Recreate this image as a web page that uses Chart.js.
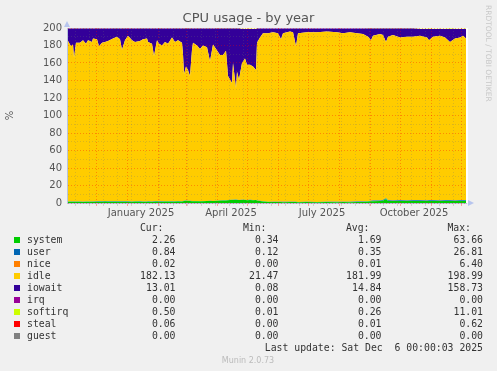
<!DOCTYPE html>
<html><head><meta charset="utf-8">
<script src="https://cdn.jsdelivr.net/npm/chart.js@4/dist/chart.umd.min.js"></script>
<style>html,body{margin:0;padding:0;background:#f0f0f0;}canvas{display:block}</style>
</head><body>
<canvas id="c" width="497" height="371"></canvas>
<script>
// Day index (1 = Nov 2 2024 ... 400 = Dec 6 2025)
const days = [1,2,5,7,8,10,14,17,20,22,26,27,31,33,36,39,42,47,51,54,56,59,62,66,69,74,77,81,82,86,88,91,93,96,99,102,106,109,112,116,117,118,120,122,124,126,127,131,134,137,141,144,147,150,154,157,160,162,166,167,170,171,173,176,179,181,184,187,190,191,194,197,202,207,212,215,217,224,227,230,232,241,251,261,271,277,284,291,297,302,305,307,314,317,320,322,327,334,341,347,354,361,363,367,374,379,384,389,394,397,400];

const system = [1.4,1.3,1.5,1.4,1.3,1.5,1.4,1.2,1.4,1.5,
1.3,1.4,1.5,1.3,1.4,1.6,1.4,1.3,1.5,1.4,
1.4,1.3,1.5,1.4,1.6,1.5,1.4,1.3,1.5,1.4,
1.5,1.6,1.4,1.5,1.7,1.6,1.5,1.6,1.8,1.7,
2.0,2.4,2.6,2.5,2.3,2.0,2.1,2.0,1.9,2.1,
2.2,2.4,2.2,2.5,2.8,2.9,3.0,3.2,3.6,3.4,
3.8,3.5,3.3,3.4,3.6,3.2,3.4,3.1,3.3,2.8,
2.4,1.8,1.3,1.1,1.2,1.1,1.0,1.1,1.2,1.1,
1.0,1.1,1.0,1.1,1.0,1.1,1.0,1.1,1.2,1.6,
2.0,2.1,2.2,2.6,4.5,2.4,2.2,2.3,2.2,2.4,
2.3,2.2,2.4,2.3,2.2,2.4,2.3,2.2,2.3,2.4,2.3];

const user = [0.3,0.3,0.3,0.3,0.3,0.3,0.3,0.3,0.3,0.3,
0.3,0.3,0.6,0.6,0.6,0.6,0.6,0.6,0.6,0.6,
0.6,0.6,0.4,0.4,0.4,0.4,0.4,0.4,0.4,0.4,
0.6,0.6,0.6,0.6,0.4,0.4,0.4,0.4,0.4,0.4,
0.2,0.2,0.2,0.2,0.2,0.2,0.2,0.2,0.2,0.2,
0.2,0.2,0.2,0.2,0.2,0.2,0.2,0.2,0.2,0.2,
0.3,0.2,0.2,0.2,0.2,0.2,0.2,0.2,0.2,0.2,
0.2,0.2,0.2,0.2,0.3,0.3,0.3,0.3,0.2,0.2,
0.2,0.2,0.2,0.2,0.3,0.4,0.5,0.5,0.4,0.5,
0.6,0.7,0.7,0.7,0.8,0.8,0.8,0.8,0.8,0.8,
0.8,0.8,0.8,0.9,0.8,0.8,0.8,0.8,0.8,0.8,0.8];

const nice = [0.01,0.01,0.01,0.01,0.01,0.01,0.01,0.01,0.01,0.01,
0.01,0.01,0.01,0.01,0.01,0.01,0.01,0.01,0.01,0.01,
0.01,0.01,0.01,0.01,0.01,0.01,0.01,0.01,0.01,0.01,
0.01,0.01,0.01,0.01,0.01,0.01,0.01,0.01,0.01,0.01,
0.01,0.01,0.01,0.01,0.01,0.01,0.01,0.01,0.01,0.01,
0.01,0.01,0.01,0.01,0.01,0.01,0.01,0.01,0.01,0.01,
0.01,0.01,0.01,0.01,0.01,0.01,0.01,0.01,0.01,0.01,
0.01,0.01,0.01,0.01,0.01,0.01,0.01,0.01,0.01,0.01,
0.01,0.01,0.01,0.01,0.01,0.01,0.01,0.01,0.01,0.01,
0.01,0.01,0.01,0.01,0.01,0.01,0.01,0.01,0.01,0.01,
0.02,0.02,0.02,0.02,0.02,0.02,0.02,0.02,0.02,0.02,0.02];

const idle = [188.3,183.4,177.2,179.3,164.4,181.2,181.3,184.5,180.3,184.2,
182.4,186.3,184.9,177.1,181.0,181.8,183.0,186.1,187.9,185.0,
173.0,184.1,189.1,184.2,182.0,183.1,185.2,186.3,182.1,180.2,
165.9,183.8,180.0,177.9,181.9,180.0,187.1,182.0,183.8,180.9,
167.8,144.4,153.2,149.3,142.5,172.8,180.7,177.8,173.9,177.7,
175.6,159.4,178.6,173.3,166.0,165.9,170.8,141.6,133.2,156.4,
126.9,146.3,137.5,156.4,161.2,154.6,154.4,152.7,148.5,180.0,
186.4,192.0,192.5,193.7,192.5,185.6,192.7,194.6,193.6,177.7,
192.8,193.7,193.8,194.7,193.7,192.5,193.5,192.4,191.4,187.9,
183.4,188.2,190.1,188.7,178.7,186.8,189.0,185.9,187.0,186.8,
187.9,186.0,182.8,186.8,188.0,185.8,180.9,185.0,185.9,187.8,184.9];

const iowait = [9.3,14.3,20.3,18.3,33.3,16.3,16.3,13.3,17.3,13.3,
15.3,11.3,12.3,20.3,16.3,15.3,14.3,11.3,9.3,12.3,
24.3,13.3,8.3,13.3,15.3,14.3,12.3,11.3,15.3,17.3,
31.3,13.3,17.3,19.3,15.3,17.3,10.3,15.3,13.3,16.3,
29.3,52.3,43.3,47.3,54.3,24.3,16.3,19.3,23.3,19.3,
21.3,37.3,18.3,23.3,30.3,30.3,25.3,54.3,62.3,39.3,
68.3,49.3,58.3,38.9,33.9,40.9,40.9,42.9,46.9,16.3,
10.3,5.3,5.3,4.3,5.3,12.3,5.3,3.3,4.3,20.3,
5.3,4.3,4.3,3.3,4.3,5.3,4.3,5.3,6.3,9.3,
13.3,8.3,6.3,7.3,15.3,9.3,7.3,10.3,9.3,9.3,
7.9,9.9,12.9,8.9,7.9,9.9,14.9,10.9,9.9,7.9,10.9];

const irq = [0,0,0,0,0,0,0,0,0,0, 0,0,0,0,0,0,0,0,0,0, 0,0,0,0,0,0,0,0,0,0,
0,0,0,0,0,0,0,0,0,0, 0,0,0,0,0,0,0,0,0,0, 0,0,0,0,0,0,0,0,0,0,
0,0,0,0,0,0,0,0,0,0, 0,0,0,0,0,0,0,0,0,0, 0,0,0,0,0,0,0,0,0,0,
0,0,0,0,0,0,0,0,0,0, 0,0,0,0,0,0,0,0,0,0,0];

const softirq = [0.3,0.2,0.3,0.2,0.3,0.3,0.2,0.3,0.3,0.2,
0.3,0.2,0.3,0.3,0.2,0.3,0.2,0.3,0.3,0.2,
0.3,0.3,0.2,0.3,0.2,0.3,0.3,0.2,0.3,0.2,
0.3,0.2,0.3,0.3,0.2,0.3,0.2,0.3,0.3,0.2,
0.3,0.4,0.3,0.4,0.3,0.3,0.2,0.3,0.3,0.2,
0.3,0.3,0.2,0.3,0.3,0.4,0.3,0.4,0.5,0.3,
0.4,0.3,0.4,0.3,0.3,0.3,0.4,0.3,0.3,0.3,
0.2,0.2,0.2,0.2,0.2,0.2,0.2,0.2,0.2,0.3,
0.2,0.2,0.2,0.2,0.2,0.2,0.2,0.2,0.2,0.3,
0.3,0.3,0.3,0.3,0.4,0.3,0.3,0.3,0.3,0.3,
0.3,0.3,0.4,0.3,0.3,0.3,0.4,0.3,0.3,0.3,0.5];

const steal = [0,0,0,0,0,0,0,0,0,0, 0,0,0,0,0,0,0,0,0,0, 0,0,0,0,0,0,0,0,0,0,
0,0,0,0,0,0,0,0,0,0, 0,0,0,0,0,0,0,0,0,0, 0,0,0,0,0,0,0,0,0,0,
0,0,0,0,0,0,0,0,0,0, 0,0,0,0,0,0,0,0,0,0, 0,0,0,0,0,0,0,0,0,0,
0,0,0,0,0,0,0,0,0,0, 0.05,0.05,0.05,0.05,0.05,0.05,0.05,0.05,0.05,0.05,0.06];

const guest = [0,0,0,0,0,0,0,0,0,0, 0,0,0,0,0,0,0,0,0,0, 0,0,0,0,0,0,0,0,0,0,
0,0,0,0,0,0,0,0,0,0, 0,0,0,0,0,0,0,0,0,0, 0,0,0,0,0,0,0,0,0,0,
0,0,0,0,0,0,0,0,0,0, 0,0,0,0,0,0,0,0,0,0, 0,0,0,0,0,0,0,0,0,0,
0,0,0,0,0,0,0,0,0,0, 0,0,0,0,0,0,0,0,0,0,0];

// Legend statistics
const seriesNames = ['system','user','nice','idle','iowait','irq','softirq','steal','guest'];
const statCur = [2.26,0.84,0.02,182.13,13.01,0.00,0.50,0.06,0.00];
const statMin = [0.34,0.12,0.00,21.47,0.08,0.00,0.01,0.00,0.00];
const statAvg = [1.69,0.35,0.01,181.99,14.84,0.00,0.26,0.01,0.00];
const statMax = [63.66,26.81,6.40,198.99,158.73,0.00,11.01,0.62,0.00];

// Axis ticks
const monthStartDays = [30,61,92,120,151,181,212,242,273,304,334,365,395];
const minorGridDays = [9,23,37,51,65,79,93,107,121,135,149,163,177,191,205,219,233,247,261,275,289,303,317,331,345,359,373,387];
const labelDays = [75,165,256,348];
const tickLabels = ['January 2025','April 2025','July 2025','October 2025'];
const chartTitle = 'CPU usage - by year';
const lastUpdate = 'Last update: Sat Dec  6 00:00:03 2025';

const seriesColors = ['#00cc00','#0066b3','#ff8000','#ffcc00','#330099','#990099','#ccff00','#ff0000','#808080'];
const seriesData = [system,user,nice,idle,iowait,irq,softirq,steal,guest];

const MAJ = 'rgba(255,0,0,0.33)';
const MIN = 'rgba(110,110,110,0.25)';
const majorSet = new Set(monthStartDays);

const datasets = seriesNames.map((n, i) => ({
  label: n,
  data: days.map((d, j) => ({x: d, y: seriesData[i][j]})),
  backgroundColor: seriesColors[i],
  borderColor: seriesColors[i],
  borderWidth: 0,
  pointRadius: 0,
  tension: 0,
  fill: i === 0 ? 'origin' : '-1'
}));

const extras = {
  id: 'extras',
  beforeDraw(chart) {
    const {ctx, chartArea: a} = chart;
    ctx.save();
    ctx.fillStyle = '#f0f0f0';
    ctx.fillRect(0, 0, chart.width, chart.height);
    ctx.fillStyle = '#ffffff';
    ctx.fillRect(a.left, a.top, a.right - a.left + 2, a.bottom - a.top);
    ctx.restore();
  },
  afterDraw(chart) {
    const {ctx, chartArea: a} = chart;
    ctx.save();
    // title
    ctx.fillStyle = '#555';
    ctx.font = '13px "DejaVu Sans"';
    ctx.textAlign = 'center';
    ctx.textBaseline = 'middle';
    ctx.fillText(chartTitle, chart.width / 2, 19);

    // axis arrows
    ctx.fillStyle = '#b7c5ee';
    ctx.beginPath();
    ctx.moveTo(a.left - 3, a.top - 1); ctx.lineTo(a.left + 3, a.top - 1); ctx.lineTo(a.left, a.top - 7);
    ctx.closePath(); ctx.fill();
    ctx.beginPath();
    ctx.moveTo(a.right + 2, a.bottom - 3); ctx.lineTo(a.right + 2, a.bottom + 3); ctx.lineTo(a.right + 8, a.bottom);
    ctx.closePath(); ctx.fill();

    // legend table
    ctx.font = '9.8px "DejaVu Sans Mono"';
    ctx.textBaseline = 'middle';
    ctx.fillStyle = '#333';
    const cols = [175.5, 278.5, 381.5, 483];
    const heads = ['Cur:','Min:','Avg:','Max:'];
    ctx.textAlign = 'right';
    heads.forEach((h, k) => ctx.fillText(h, cols[k] - 12, 228.5));
    const stats = [statCur, statMin, statAvg, statMax];
    seriesNames.forEach((n, i) => {
      const y = 240 + i * 12;
      ctx.fillStyle = seriesColors[i];
      ctx.fillRect(14, y - 3, 6, 6);
      ctx.fillStyle = '#333';
      ctx.textAlign = 'left';
      ctx.fillText(n, 27, y);
      ctx.textAlign = 'right';
      stats.forEach((s, k) => ctx.fillText(s[i].toFixed(2), cols[k], y));
    });
    ctx.fillText(lastUpdate, 483, 348);

    ctx.textAlign = 'center';
    ctx.fillStyle = '#bbbbbb';
    ctx.font = '8px "DejaVu Sans"';
    ctx.fillText('Munin 2.0.73', 248, 361);

    // rrdtool watermark
    ctx.translate(488, 5);
    ctx.rotate(Math.PI / 2);
    ctx.textAlign = 'left';
    ctx.fillStyle = '#c8c8c8';
    ctx.font = '7.5px "DejaVu Sans"';
    ctx.fillText('RRDTOOL / TOBI OETIKER', 0, 0);
    ctx.restore();
  }
};

const tickFont = {family: 'DejaVu Sans', size: 10};

new Chart(document.getElementById('c'), {
  type: 'line',
  data: {datasets},
  plugins: [extras],
  options: {
    responsive: false,
    animation: false,
    devicePixelRatio: 1,
    layout: {padding: {left: 0, right: 31, top: 28, bottom: 148}},
    plugins: {
      legend: {display: false},
      tooltip: {enabled: false},
      title: {display: false}
    },
    scales: {
      x: {
        type: 'linear', min: 1, max: 400, position: 'bottom', z: 1,
        afterBuildTicks: s => { s.ticks = monthStartDays.concat(minorGridDays).map(v => ({value: v})); },
        afterFit: s => { s.height = 0; },
        ticks: {display: false, autoSkip: false},
        grid: {z: 1, color: c => (c.tick && majorSet.has(c.tick.value)) ? MAJ : MIN, drawTicks: true, tickLength: 3, lineWidth: 1},
        border: {z: 1, display: true, color: '#b8c4dc', dash: [1, 2]}
      },
      xl: {
        type: 'linear', min: 1, max: 400, position: 'bottom',
        afterBuildTicks: s => { s.ticks = labelDays.map(v => ({value: v})); },
        afterFit: s => { s.height = 20; },
        ticks: {autoSkip: false, maxRotation: 0, padding: 4, color: '#555', font: tickFont,
          callback: (v, i) => tickLabels[i]},
        grid: {display: false, drawTicks: false},
        border: {display: false}
      },
      y: {
        stacked: true, min: 0, max: 200, z: 1,
        afterFit: s => { s.width = 67; },
        ticks: {stepSize: 10, autoSkip: false, padding: 5, color: '#555', font: tickFont,
          callback: v => (v % 20 === 0 ? String(v) : '')},
        grid: {z: 1, color: c => (c.tick && c.tick.value % 20 === 0) ? MAJ : MIN, drawTicks: false, lineWidth: 1},
        border: {z: 1, display: true, color: '#b8c4dc', dash: [1, 2]},
        title: {display: true, text: '%', color: '#555', font: tickFont, padding: {top: 4, bottom: 0}}
      }
    }
  }
});
</script>
</body></html>
